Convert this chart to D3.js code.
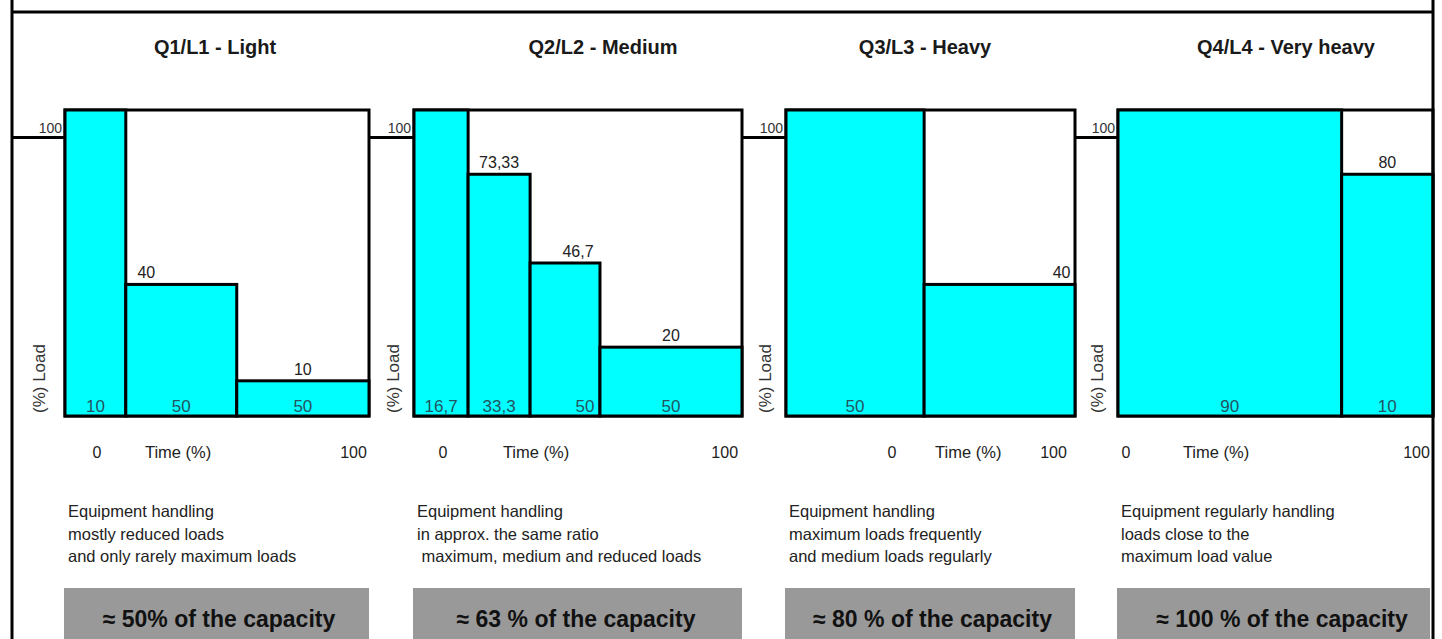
<!DOCTYPE html>
<html>
<head>
<meta charset="utf-8">
<script src="https://cdn.jsdelivr.net/npm/d3@7"></script>
<style>
  body { margin: 0; background: #fff; }
  text { font-family: "Liberation Sans", Arial, sans-serif; }
</style>
</head>
<body>
<div id="chart"></div>
<script>
// chart data
var titles = ["Q1/L1 - Light", "Q2/L2 - Medium", "Q3/L3 - Heavy", "Q4/L4 - Very heavy"];
// schematic step heights (% of box) as drawn
var loadDrawn = [[100, 43, 11.5], [100, 79, 50, 22.5], [100, 43], [100, 79]];
// schematic step edges (% of box width) as drawn
var timeDrawn = [[0, 20, 56.5, 100], [0, 16.5, 35.4, 56.7, 100], [0, 47.8, 100], [0, 71, 100]];
var loadLabels = [["", "40", "10"], ["", "73,33", "46,7", "20"], ["", "40"], ["", "80"]];
var timeLabels = [["10", "50", "50"], ["16,7", "33,3", "50", "50"], ["50", ""], ["90", "10"]];
var refLevel = 91;
var yTickLabel = "100";
var yAxisTitle = "(%) Load";
var xTickLabels = ["0", "100"];
var xAxisTitle = "Time (%)";
var descriptions = [
  ["Equipment handling", "mostly reduced loads", "and only rarely maximum loads"],
  ["Equipment handling", "in approx. the same ratio", " maximum, medium and reduced loads"],
  ["Equipment handling", "maximum loads frequently", "and medium loads regularly"],
  ["Equipment regularly handling", "loads close to the", "maximum load value"]
];
var capacities = ["\u2248 50% of the capacity", "\u2248 63 % of the capacity", "\u2248 80 % of the capacity", "\u2248 100 % of the capacity"];

// layout
var W = 1442, H = 639;
var boxes = [[65, 369], [414, 742], [786, 1075], [1118, 1433]];
var titleX = [215, 603, 925, 1286];
var zeroAt = [10.5, 8.8, 36.7, 2.5];
var timeAt = [26.3, 27.1, 51.6, 20.6];
var hundredAt = [99.3, 98.8, 97.2, 99];
var loadTitleGap = [20, 15, 15, 15];
var topDx = [[0, -35, 0], [0, 0, 13, 0], [0, 62], [0, 0]];
var bottomDx = [[0, 0, 0], [0, 0, 20, 0], [0, 0], [0, 0]];
var capDx = [2, -2, 2, 8];
var cyan = "#00ffff";

var svg = d3.select("#chart")
  .append("svg")
  .attr("width", W)
  .attr("height", H);

var y = d3.scaleLinear().domain([0, 100]).range([416, 110]);

//draw panels
for (var p = 0; p < 4; p++) {
  var x = d3.scaleLinear().domain([0, 100]).range(boxes[p]);
  var g = svg.append("g");

  g.append("text")
    .attr("x", titleX[p])
    .attr("y", 54)
    .attr("text-anchor", "middle")
    .style("font-size", "20px")
    .style("font-weight", "bold")
    .style("fill", "#1a1a1a")
    .text(titles[p]);

  // 100 reference line left of the box
  var prevRight = p == 0 ? 12 : boxes[p - 1][1];
  g.append("line")
    .attr("x1", prevRight)
    .attr("x2", x(0))
    .attr("y1", y(refLevel))
    .attr("y2", y(refLevel))
    .style("stroke", "#000")
    .style("stroke-width", 3);

  g.append("text")
    .attr("x", x(0) - 3)
    .attr("y", y(refLevel) - 5)
    .attr("text-anchor", "end")
    .style("font-size", "14px")
    .style("fill", "#333")
    .text(yTickLabel);

  // box
  g.append("rect")
    .attr("x", x(0))
    .attr("y", y(100))
    .attr("width", x(100) - x(0))
    .attr("height", y(0) - y(100))
    .style("fill", "#fff")
    .style("stroke", "#000")
    .style("stroke-width", 3);

  var steps = loadDrawn[p].map(function (v, i) {
    return { v: v, t0: timeDrawn[p][i], t1: timeDrawn[p][i + 1], top: loadLabels[p][i], bottom: timeLabels[p][i], i: i };
  });

  g.selectAll("rect.step")
    .data(steps)
    .enter()
    .append("rect")
    .attr("class", "step")
    .attr("x", function (d) { return x(d.t0); })
    .attr("y", function (d) { return y(d.v); })
    .attr("width", function (d) { return x(d.t1) - x(d.t0); })
    .attr("height", function (d) { return y(0) - y(d.v); })
    .style("fill", cyan)
    .style("stroke", "#000")
    .style("stroke-width", 3);

  (function (pp) {
    g.selectAll("text.top")
      .data(steps)
      .enter()
      .append("text")
      .attr("class", "top")
      .attr("x", function (d) { return (x(d.t0) + x(d.t1)) / 2 + topDx[pp][d.i]; })
      .attr("y", function (d) { return y(d.v) - 6; })
      .attr("text-anchor", "middle")
      .style("font-size", "16px")
      .style("fill", "#222")
      .text(function (d) { return d.top; });

    g.selectAll("text.bottom")
      .data(steps)
      .enter()
      .append("text")
      .attr("class", "bottom")
      .attr("x", function (d) { return (x(d.t0) + x(d.t1)) / 2 + bottomDx[pp][d.i]; })
      .attr("y", y(0) - 4)
      .attr("text-anchor", "middle")
      .style("font-size", "17px")
      .style("fill", "#24535f")
      .text(function (d) { return d.bottom; });
  })(p);

  g.append("text")
    .attr("transform", "translate(" + (x(0) - loadTitleGap[p]) + "," + (y(0) - 3) + ") rotate(-90)")
    .style("font-size", "17px")
    .style("fill", "#333")
    .text(yAxisTitle);

  //x labels
  g.append("text")
    .attr("x", x(zeroAt[p]))
    .attr("y", 458)
    .attr("text-anchor", "middle")
    .style("font-size", "16px")
    .style("fill", "#222")
    .text(xTickLabels[0]);
  g.append("text")
    .attr("x", x(timeAt[p]))
    .attr("y", 458)
    .style("font-size", "16.5px")
    .style("fill", "#222")
    .text(xAxisTitle);
  g.append("text")
    .attr("x", x(hundredAt[p]))
    .attr("y", 458)
    .attr("text-anchor", "end")
    .style("font-size", "16px")
    .style("fill", "#222")
    .text(xTickLabels[1]);

  //description
  g.selectAll("text.desc")
    .data(descriptions[p])
    .enter()
    .append("text")
    .attr("class", "desc")
    .attr("x", x(0) + 3)
    .attr("y", function (d, i) { return 517 + i * 22.5; })
    .attr("xml:space", "preserve")
    .style("white-space", "pre")
    .style("font-size", "16.5px")
    .style("fill", "#222")
    .text(function (d) { return d; });

  //capacity box
  var gx1 = Math.min(x(100), 1430);
  g.append("rect")
    .attr("x", x(0) - 1)
    .attr("y", 588)
    .attr("width", gx1 - x(0) + 1)
    .attr("height", 60)
    .style("fill", "#999999");
  g.append("text")
    .attr("x", (x(0) + gx1) / 2 + capDx[p])
    .attr("y", 627)
    .attr("text-anchor", "middle")
    .style("font-size", "23px")
    .style("font-weight", "bold")
    .style("fill", "#111")
    .text(capacities[p]);
}

//draw outer frame
svg.append("line").attr("x1", 12).attr("x2", 12).attr("y1", 0).attr("y2", H)
  .style("stroke", "#000").style("stroke-width", 3);
svg.append("line").attr("x1", 1433).attr("x2", 1433).attr("y1", 0).attr("y2", H)
  .style("stroke", "#000").style("stroke-width", 3);
svg.append("line").attr("x1", 12).attr("x2", 1433).attr("y1", 12).attr("y2", 12)
  .style("stroke", "#000").style("stroke-width", 3);
</script>
</body>
</html>
